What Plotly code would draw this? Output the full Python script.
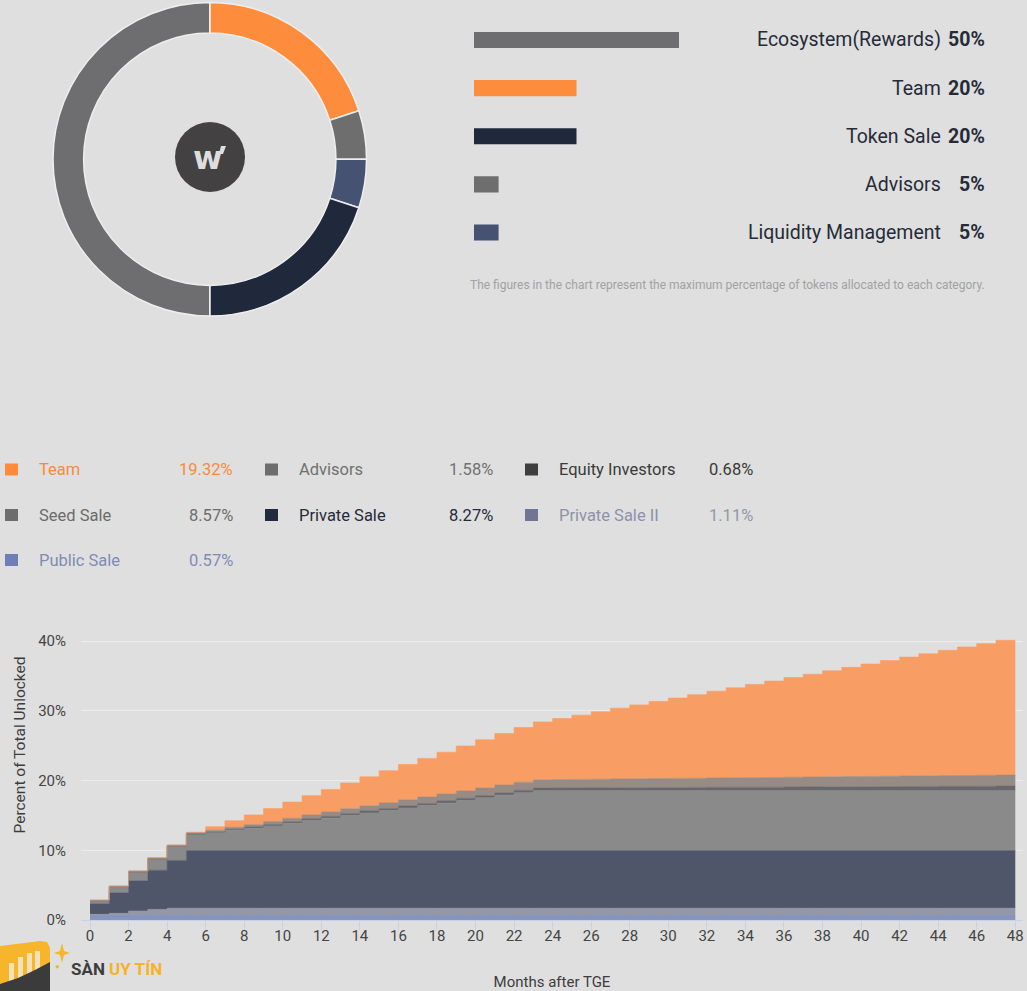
import plotly.graph_objects as go

W, H = 1027, 991
def px(x):
    return x / W
def py(y):
    return 1 - y / H

BG = "#dfdfdf"
FONT = "Roboto"

# ---------------- Allocation (donut + bar legend) ----------------
alloc_labels = ["Ecosystem(Rewards)", "Team", "Token Sale", "Advisors", "Liquidity Management"]
alloc_pct = [50, 20, 20, 5, 5]
# legend bar lengths as drawn in the graphic (same units as the 50% bar)
legend_bar_units = [50, 25, 25, 6, 6]
alloc_colors = ["#6e6e70", "#fe8c3d", "#20283c", "#6e6e6e", "#455271"]
donut_order = ["Team", "Advisors", "Liquidity Management", "Token Sale", "Ecosystem(Rewards)"]
footnote = "The figures in the chart represent the maximum percentage of tokens allocated to each category."

# ---------------- Unlock schedule (months 0..47) ----------------
months = list(range(49))  # step edges 0..48
public_sale = [0.57, 0.57, 0.57, 0.57, 0.57, 0.57, 0.57, 0.57, 0.57, 0.57, 0.57, 0.57,
               0.57, 0.57, 0.57, 0.57, 0.57, 0.57, 0.57, 0.57, 0.57, 0.57, 0.57, 0.57,
               0.57, 0.57, 0.57, 0.57, 0.57, 0.57, 0.57, 0.57, 0.57, 0.57, 0.57, 0.57,
               0.57, 0.57, 0.57, 0.57, 0.57, 0.57, 0.57, 0.57, 0.57, 0.57, 0.57, 0.57]
private_sale_ii = [0.24, 0.38, 0.72, 0.95, 1.11, 1.11, 1.11, 1.11, 1.11, 1.11, 1.11, 1.11,
                   1.11, 1.11, 1.11, 1.11, 1.11, 1.11, 1.11, 1.11, 1.11, 1.11, 1.11, 1.11,
                   1.11, 1.11, 1.11, 1.11, 1.11, 1.11, 1.11, 1.11, 1.11, 1.11, 1.11, 1.11,
                   1.11, 1.11, 1.11, 1.11, 1.11, 1.11, 1.11, 1.11, 1.11, 1.11, 1.11, 1.11]
private_sale = [1.48, 2.95, 4.33, 5.62, 6.86, 8.27, 8.27, 8.27, 8.27, 8.27, 8.27, 8.27,
                8.27, 8.27, 8.27, 8.27, 8.27, 8.27, 8.27, 8.27, 8.27, 8.27, 8.27, 8.27,
                8.27, 8.27, 8.27, 8.27, 8.27, 8.27, 8.27, 8.27, 8.27, 8.27, 8.27, 8.27,
                8.27, 8.27, 8.27, 8.27, 8.27, 8.27, 8.27, 8.27, 8.27, 8.27, 8.27, 8.27]
seed_sale = [0.42, 0.81, 1.19, 1.53, 1.95, 2.29, 2.55, 2.90, 3.20, 3.54, 3.93, 4.30,
             4.65, 5.05, 5.40, 5.75, 6.10, 6.45, 6.80, 7.18, 7.56, 7.95, 8.28, 8.57,
             8.57, 8.57, 8.57, 8.57, 8.57, 8.57, 8.57, 8.57, 8.57, 8.57, 8.57, 8.57,
             8.57, 8.57, 8.57, 8.57, 8.57, 8.57, 8.57, 8.57, 8.57, 8.57, 8.57, 8.57]
equity_investors = [0.05, 0.06, 0.08, 0.09, 0.10, 0.12, 0.14, 0.16, 0.18, 0.20, 0.22, 0.24,
                    0.26, 0.27, 0.28, 0.29, 0.30, 0.31, 0.32, 0.33, 0.33, 0.34, 0.37, 0.39,
                    0.40, 0.41, 0.42, 0.44, 0.45, 0.46, 0.47, 0.48, 0.50, 0.51, 0.52, 0.53,
                    0.54, 0.56, 0.57, 0.58, 0.59, 0.60, 0.62, 0.63, 0.64, 0.65, 0.66, 0.68]
advisors = [0.10, 0.10, 0.15, 0.15, 0.15, 0.17, 0.23, 0.28, 0.34, 0.42, 0.49, 0.56,
            0.62, 0.68, 0.74, 0.80, 0.86, 0.92, 0.98, 1.03, 1.08, 1.12, 1.16, 1.19,
            1.21, 1.22, 1.24, 1.26, 1.27, 1.29, 1.31, 1.32, 1.34, 1.36, 1.37, 1.39,
            1.41, 1.42, 1.44, 1.46, 1.47, 1.49, 1.51, 1.52, 1.54, 1.55, 1.57, 1.58]
team = [0.00, 0.00, 0.00, 0.00, 0.00, 0.05, 0.49, 0.94, 1.40, 1.86, 2.32, 2.78,
        3.24, 3.70, 4.16, 4.62, 5.08, 5.54, 6.00, 6.46, 6.92, 7.38, 7.84, 8.30,
        8.76, 9.22, 9.68, 10.14, 10.60, 11.06, 11.52, 11.98, 12.44, 12.90, 13.36, 13.82,
        14.28, 14.74, 15.20, 15.66, 16.12, 16.58, 17.04, 17.50, 17.96, 18.42, 18.87, 19.32]

y_ticks = [0, 10, 20, 30, 40]
y_ticktext = ["0%", "10%", "20%", "30%", "40%"]

fig = go.Figure()

# ---- donut ----
order_idx = [alloc_labels.index(n) for n in donut_order]
fig.add_trace(go.Pie(
    labels=[alloc_labels[i] for i in order_idx],
    values=[alloc_pct[i] for i in order_idx],
    marker=dict(colors=[alloc_colors[i] for i in order_idx], line=dict(color="#eeeeee", width=1.5)),
    hole=0.805, sort=False, direction="clockwise", rotation=0,
    textinfo="none", showlegend=False,
    domain=dict(x=[px(53), px(366.5)], y=[py(316), py(2.5)]),
))

# ---- bar legend (top right) ----
fig.add_trace(go.Bar(
    x=legend_bar_units, y=list(range(len(alloc_pct))), orientation="h",
    marker=dict(color=alloc_colors, line=dict(width=0)), width=0.333,
    customdata=alloc_pct, hovertemplate="%{customdata}%<extra></extra>",
    xaxis="x2", yaxis="y2", showlegend=False,
))

# ---- stacked step area ----
series = [
    ("Public Sale", public_sale, "#8594c1"),
    ("Private Sale II", private_sale_ii, "#9297a9"),
    ("Private Sale", private_sale, "#50566a"),
    ("Seed Sale", seed_sale, "#8a8a8b"),
    ("Equity Investors", equity_investors, "#68686c"),
    ("Advisors", advisors, "#978b86"),
    ("Team", team, "#f89e64"),
]
for name, vals, col in series:
    fig.add_trace(go.Scatter(
        x=months, y=vals + [vals[-1]], name=name, mode="lines",
        line=dict(shape="hv", width=0.6, color=col), fillcolor=col,
        stackgroup="unlock", showlegend=False,
    ))

annotations = []
shapes = []

# top-right labels
row_y = [40, 88.5, 136.5, 184.5, 232.5]
for i, lab in enumerate(alloc_labels):
    annotations.append(dict(x=px(943), y=py(row_y[i]), xref="paper", yref="paper", xanchor="right",
                            yanchor="middle", showarrow=False, text=lab,
                            font=dict(family=FONT, size=19.5, color="#262b38")))
    annotations.append(dict(x=px(987), y=py(row_y[i]), xref="paper", yref="paper", xanchor="right",
                            yanchor="middle", showarrow=False, text="<b>%d%%</b>" % alloc_pct[i],
                            font=dict(family=FONT, size=19.5, color="#262b38")))
annotations.append(dict(x=px(987), y=py(285), xref="paper", yref="paper", xanchor="right", yanchor="middle",
                        showarrow=False, text=footnote, font=dict(family=FONT, size=12, color="#a2a2a2")))

# helper for pixel paths
def path(pts):
    return "M " + " L ".join("%.5f,%.5f" % (px(a), py(b)) for a, b in pts) + " Z"

# center logo
shapes.append(dict(type="circle", xref="paper", yref="paper", x0=px(175), x1=px(245), y0=py(192), y1=py(122),
                   fillcolor="#434142", line=dict(width=0), layer="below"))
annotations.append(dict(x=px(208), y=py(158), xref="paper", yref="paper", xanchor="center", yanchor="middle",
                        showarrow=False, text="<b>w</b>",
                        font=dict(family="DejaVu Sans", size=32, color="#dedede")))
shapes.append(dict(type="path", xref="paper", yref="paper",
                   path=path([(221, 146), (226, 146), (223, 154), (219, 154)]),
                   fillcolor="#dedede", line=dict(width=0)))

# middle legend
legend_items = [
    ("Team", team[-1], "#ff8a3a", "#f98a3c", "#f98a3c", 0, 0),
    ("Advisors", advisors[-1], "#6d6d6d", "#707070", "#727272", 1, 0),
    ("Equity Investors", equity_investors[-1], "#3f3f3f", "#3a3a3a", "#3a3a3a", 2, 0),
    ("Seed Sale", seed_sale[-1], "#6d6d6d", "#6b6b6b", "#6e6e6e", 0, 1),
    ("Private Sale", private_sale[-1], "#222a3d", "#262b3a", "#262b3a", 1, 1),
    ("Private Sale II", private_sale_ii[-1], "#6f7592", "#8c93a8", "#9097ab", 2, 1),
    ("Public Sale", public_sale[-1], "#6f7fb5", "#7f8cb6", "#7f8cb6", 0, 2),
]
col_sq = [5, 265, 525]
col_lab = [37, 297, 557]
col_val = [235, 495, 755]
leg_rows = [469.5, 515, 560]
for name, v, sq, tc, vc, c, r in legend_items:
    yc = leg_rows[r]
    shapes.append(dict(type="rect", xref="paper", yref="paper", x0=px(col_sq[c]), x1=px(col_sq[c] + 13),
                       y0=py(yc + 6), y1=py(yc - 6), fillcolor=sq, line=dict(width=0)))
    annotations.append(dict(x=px(col_lab[c]), y=py(yc), xref="paper", yref="paper", xanchor="left",
                            yanchor="middle", showarrow=False, text=name,
                            font=dict(family=FONT, size=16.5, color=tc)))
    annotations.append(dict(x=px(col_val[c]), y=py(yc), xref="paper", yref="paper", xanchor="right",
                            yanchor="middle", showarrow=False, text="%.2f%%" % v,
                            font=dict(family=FONT, size=16.5, color=vc)))

# watermark
shapes.append(dict(type="path", xref="paper", yref="paper",
                   path=path([(0, 946), (40, 941), (47, 942), (50, 948), (50, 986), (0, 986)]),
                   fillcolor="#f7b52c", line=dict(width=0)))
for x0, top in [(9, 963), (18, 957), (27, 953), (35, 951)]:
    shapes.append(dict(type="rect", xref="paper", yref="paper", x0=px(x0), x1=px(x0 + 5), y0=py(982), y1=py(top),
                       fillcolor="#f3e2b8", line=dict(width=0)))
shapes.append(dict(type="path", xref="paper", yref="paper",
                   path=path([(0, 991), (0, 984), (18, 978), (35, 970), (50, 962), (50, 991)]),
                   fillcolor="#3c3b3b", line=dict(width=0)))
shapes.append(dict(type="path", xref="paper", yref="paper",
                   path=path([(62, 943), (64, 951), (70, 953), (64, 955), (62, 963), (60, 955), (54, 953), (60, 951)]),
                   fillcolor="#f7b52c", line=dict(width=0)))
shapes.append(dict(type="circle", xref="paper", yref="paper", x0=px(55.5), x1=px(59), y0=py(968.5), y1=py(965),
                   fillcolor="#f7b52c", line=dict(width=0)))
annotations.append(dict(x=px(69), y=py(969), xref="paper", yref="paper", xanchor="left", yanchor="middle",
                        showarrow=False,
                        text="<b>SÀN</b> <b><span style='color:#f6b325'>UY TÍN</span></b>",
                        font=dict(family=FONT, size=17, color="#3d3d3d")))

fig.update_layout(
    width=W, height=H, margin=dict(l=0, r=0, t=0, b=0, pad=0, autoexpand=False),
    paper_bgcolor=BG, plot_bgcolor="rgba(0,0,0,0)",
    font=dict(family=FONT, color="#444444"),
    showlegend=False,
    annotations=annotations, shapes=shapes,
    xaxis=dict(domain=[px(81), px(1023)], range=[-0.467, 48.4], anchor="y", automargin=False,
               tickmode="linear", tick0=0, dtick=2, ticks="outside", ticklen=9, tickwidth=1,
               tickcolor="#c6d2e8", showline=True, linecolor="#c6d2e8", linewidth=1,
               showgrid=False, zeroline=False, ticklabelstandoff=-7,
               tickfont=dict(family=FONT, size=15, color="#454545"),
               title=dict(text="Months after TGE", standoff=37, font=dict(family=FONT, size=15, color="#3d3d3d"))),
    yaxis=dict(domain=[py(920), py(570)], range=[0, 50.18], anchor="x", automargin=False,
               tickmode="array", tickvals=y_ticks, ticktext=y_ticktext,
               showgrid=True, gridcolor="#ececec", gridwidth=1, zeroline=False, showline=False,
               ticks="", ticklabelstandoff=14,
               tickfont=dict(family=FONT, size=15, color="#454545"),
               title=dict(text="Percent of Total Unlocked", standoff=8,
                          font=dict(family=FONT, size=15.5, color="#3d3d3d"))),
    xaxis2=dict(domain=[px(474), px(679)], range=[0, 50], anchor="y2", visible=False, fixedrange=True),
    yaxis2=dict(domain=[py(256.56), py(15.94)], range=[4.5, -0.5], anchor="x2", visible=False, fixedrange=True),
)

fig.write_html(
    "out.html",
    config={"displayModeBar": False},
    post_script="document.body.style.margin='0px';document.body.style.overflow='hidden';"
                "document.body.style.background='" + BG + "';",
)
